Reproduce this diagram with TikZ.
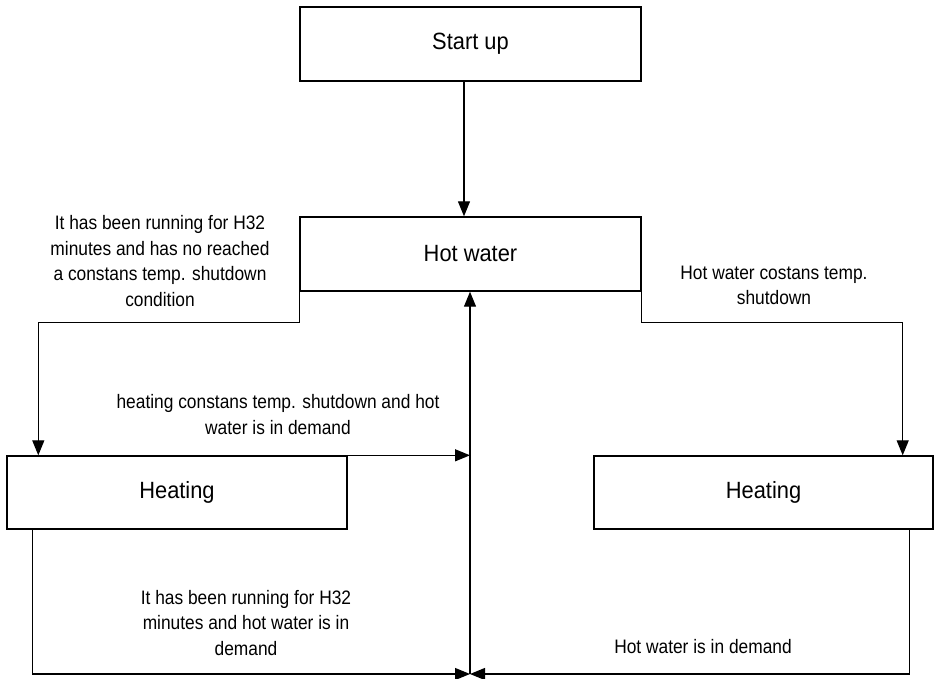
\documentclass[tikz,border=0pt]{standalone}
\usepackage{fontspec}
\setmainfont{Liberation Sans}
\newfontfamily\lblfont[FakeStretch=0.89]{Liberation Sans}
\newfontfamily\boxfont[FakeStretch=0.93]{Liberation Sans}
\usetikzlibrary{arrows.meta}
\tikzset{
  box/.style={draw, line width=1.4pt, inner sep=0pt, font=\boxfont\fontsize{23.5}{26}\selectfont},
  arr/.style={line width=1.2pt, -{Triangle[length=15pt,width=12pt]}},
  lbl/.style={align=center, inner sep=0pt, font=\lblfont\fontsize{19.5}{25.5}\selectfont}
}
\begin{document}
\begin{tikzpicture}[x=1pt,y=-1pt]
\useasboundingbox[fill=white] (0,0) rectangle (934,678);
\node[box, minimum width=341pt, minimum height=74pt] (su) at (470.5,44) {Start up};
\node[box, minimum width=341pt, minimum height=74pt] (hw) at (470.5,254) {Hot water};
\node[box, minimum width=340pt, minimum height=73pt] (hl) at (177,492.5) {Heating};
\node[box, minimum width=339pt, minimum height=73pt] (hr) at (763.5,492.5) {Heating};
\coordinate (bm) at (470,674);

\draw[arr] ([xshift=-6.5pt]su.south) -- ([xshift=-6.5pt]hw.north);
\draw[arr] (hw.south west) -- ++(0,31) -| ([xshift=32pt]hl.north west);
\draw[arr] (hw.south east) -- ++(0,31) -| ([xshift=-31pt]hr.north east);
\draw[arr] (bm) -- (bm |- hw.south);
\draw[arr] (hl.north east) -- (hl.north east -| bm);
\draw[arr] ([xshift=26pt]hl.south west) |- (bm);
\draw[arr] ([xshift=-24pt]hr.south east) |- (bm);

\node[lbl] (l1) at (160,261) {It has been running for H32\\minutes and has no reached\\a constans temp. shutdown\\condition};
\node[lbl] (l2) at (278,414.5) {heating constans temp. shutdown and hot\\water is in demand};
\node[lbl] (l3) at (774,285.5) {Hot water costans temp.\\shutdown};
\node[lbl] (l4) at (246,623) {It has been running for H32\\minutes and hot water is in\\demand};
\node[lbl] (l5) at (703,647) {Hot water is in demand};
\end{tikzpicture}
\end{document}
